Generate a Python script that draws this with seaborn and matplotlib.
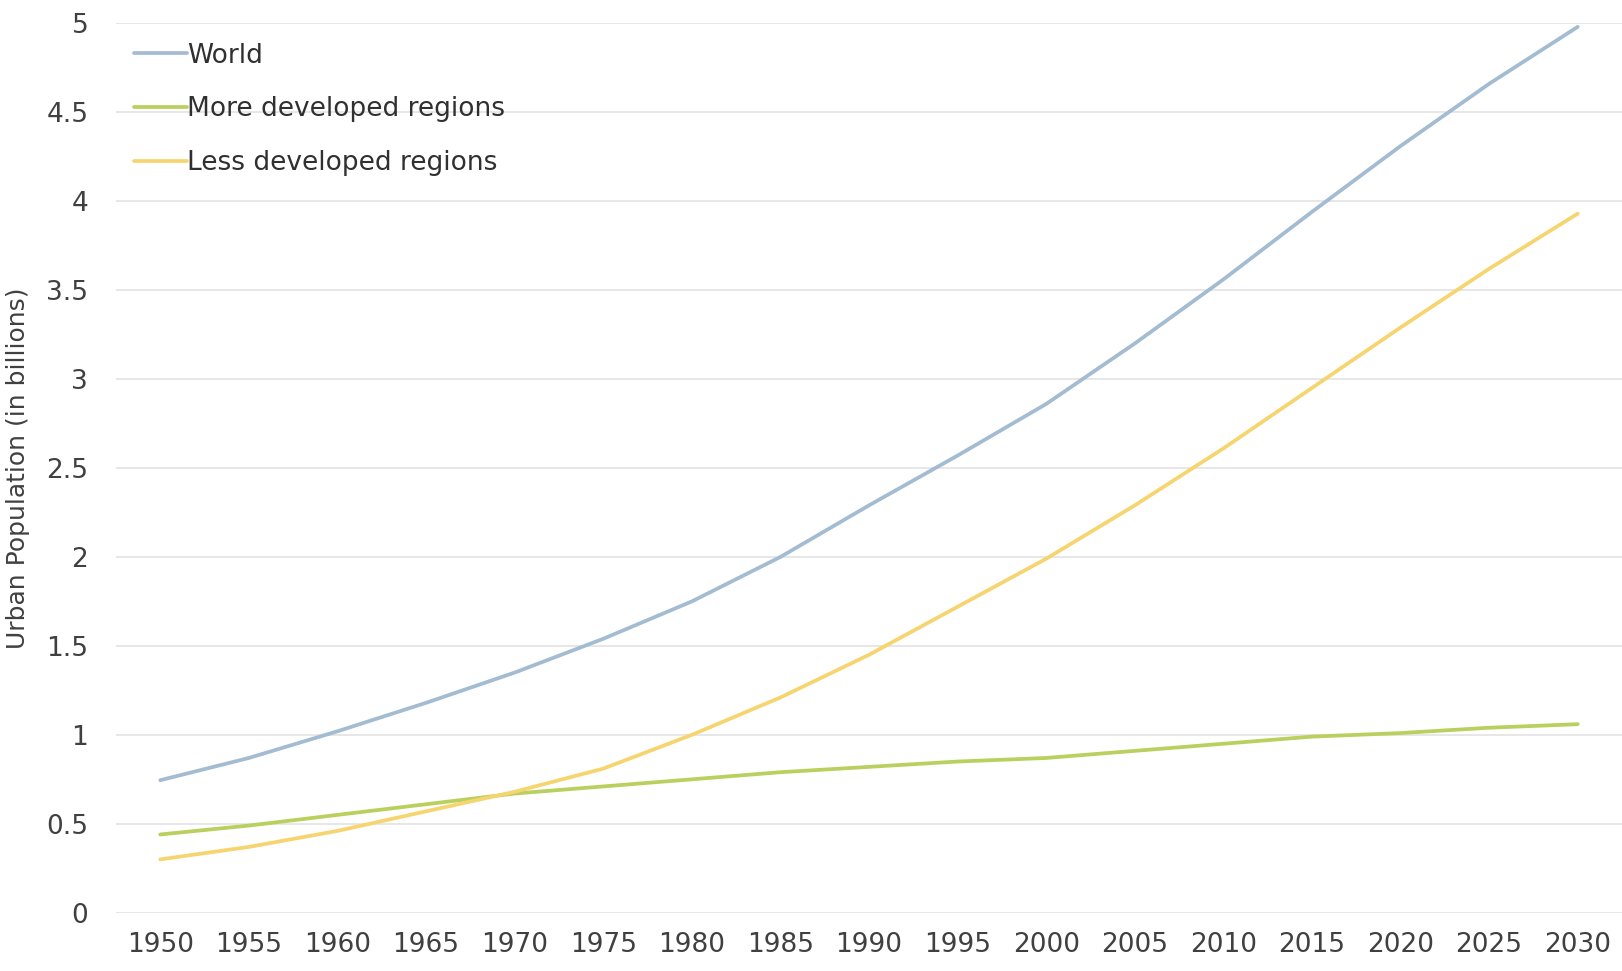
import numpy as np
import pandas as pd
import matplotlib
matplotlib.use("Agg")
import matplotlib.pyplot as plt
import seaborn as sns

# urban population, billions
years = [1950, 1955, 1960, 1965, 1970, 1975, 1980, 1985, 1990,
         1995, 2000, 2005, 2010, 2015, 2020, 2025, 2030]
world = [0.745, 0.87, 1.02, 1.18, 1.35, 1.54, 1.75, 2.00, 2.29,
         2.57, 2.86, 3.20, 3.56, 3.94, 4.31, 4.66, 4.98]
more_dev = [0.44, 0.49, 0.55, 0.61, 0.67, 0.71, 0.75, 0.79, 0.82,
            0.85, 0.87, 0.91, 0.95, 0.99, 1.01, 1.04, 1.06]
less_dev = [0.30, 0.37, 0.46, 0.57, 0.68, 0.81, 1.00, 1.21, 1.45,
            1.72, 1.99, 2.29, 2.61, 2.95, 3.29, 3.62, 3.93]
series_names = ["World", "More developed regions", "Less developed regions"]
colors = ["#a3bcd2", "#b9d05f", "#f6d570"]
yticks = [0, 0.5, 1, 1.5, 2, 2.5, 3, 3.5, 4, 4.5, 5]
ytick_labels = ["0", "0.5", "1", "1.5", "2", "2.5", "3", "3.5", "4", "4.5", "5"]

df = pd.DataFrame({
    "year": years * 3,
    "pop": world + more_dev + less_dev,
    "series": [series_names[0]] * len(years) + [series_names[1]] * len(years)
              + [series_names[2]] * len(years),
})

sns.set_style("white")
plt.rcParams["font.family"] = ["DejaVu Sans"]

fig = plt.figure(figsize=(16.22, 9.71), dpi=100)
ax = fig.add_axes([0.0715, 0.06, 0.9285, 0.916])

sns.lineplot(data=df, x="year", y="pop", hue="series", hue_order=series_names,
             palette=colors, linewidth=2.7, ax=ax)

ax.set_xlim(1947.5, 2032.5)
ax.set_ylim(0, 5)
ax.set_xticks(years)
ax.set_xticklabels([str(y) for y in years])
ax.set_yticks(yticks)
ax.set_yticklabels(ytick_labels)
ax.yaxis.grid(True, color="#e3e3e3", linewidth=1.2)
ax.set_axisbelow(True)
for s in ax.spines.values():
    s.set_visible(False)
ax.tick_params(axis="both", length=0, labelsize=19, colors="#404040")
ax.tick_params(axis="x", pad=14)
ax.tick_params(axis="y", pad=20)
ax.set_xlabel("")
ax.set_ylabel("Urban Population (in billions)", fontsize=18, color="#404040", labelpad=12)

leg = ax.legend(loc="upper left", frameon=False, fontsize=19, handlelength=2.0,
                handletextpad=0.0, labelspacing=1.05, borderaxespad=0.3,
                bbox_to_anchor=(0.0, 0.999))
for t in leg.get_texts():
    t.set_color("#303030")

fig.savefig("out.png", dpi=100)
